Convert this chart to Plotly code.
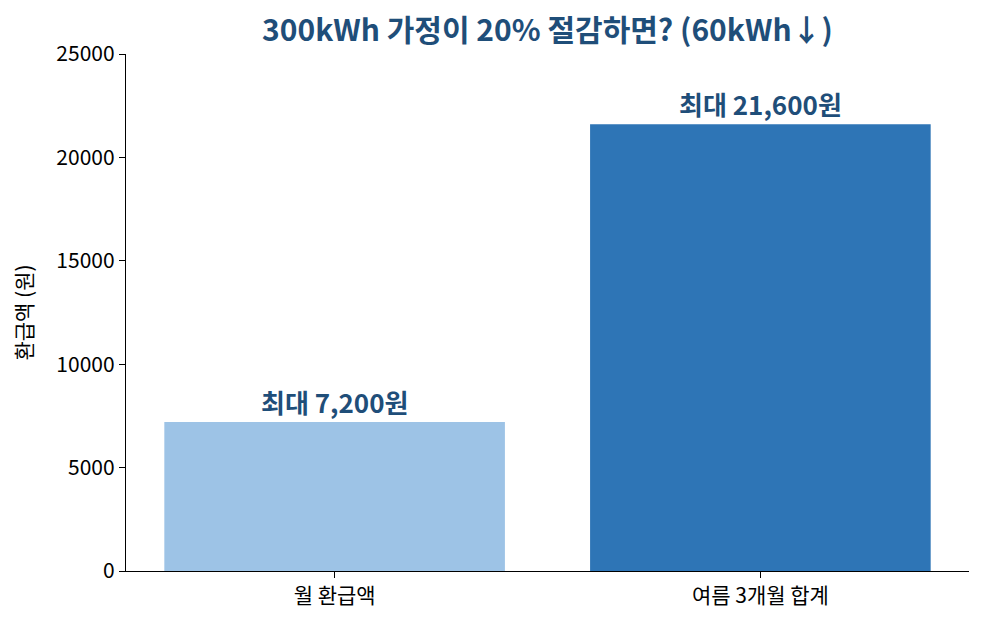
import plotly.graph_objects as go

categories = ["월 환급액", "여름 3개월 합계"]
values = [7200, 21600]
labels = ["최대 7,200원", "최대 21,600원"]
colors = ["#9dc3e6", "#2e75b6"]
title = "300kWh 가정이 20% 절감하면? (60kWh↓)"
y_ticks = [0, 5000, 10000, 15000, 20000, 25000]

FONT = "Noto Sans CJK KR"
DARK = "#1f4e79"

fig = go.Figure()
fig.add_trace(go.Bar(
    x=[0, 1], y=values, width=0.8,
    marker=dict(color=colors, line=dict(width=0)),
    hoverinfo="skip",
))

for i, (v, t) in enumerate(zip(values, labels)):
    fig.add_annotation(x=i, y=v, text=f"<b>{t}</b>", showarrow=False,
                       yanchor="bottom", yshift=0,
                       font=dict(family=FONT, size=26, color=DARK))

fig.update_layout(
    width=985, height=626,
    margin=dict(l=126, r=16, t=54, b=55),
    paper_bgcolor="white", plot_bgcolor="white",
    showlegend=False,
    font=dict(family=FONT, size=21, color="black"),
    title=dict(text=f"<b>{title}</b>", x=0.5, xref="paper", xanchor="center",
               y=1 - 30/626, yanchor="middle",
               font=dict(family=FONT, size=30, color=DARK)),
)
fig.update_xaxes(
    range=[-0.49, 1.49], tickmode="array", tickvals=[0, 1], ticktext=categories,
    showline=True, linecolor="black", linewidth=1.3, ticks="outside", ticklen=6,
    tickcolor="black", showgrid=False, zeroline=False,
    tickfont=dict(family=FONT, size=21, color="black"),
)
fig.update_yaxes(
    range=[0, 25000], tickmode="array", tickvals=y_ticks,
    ticktext=[str(t) for t in y_ticks],
    showline=True, linecolor="black", linewidth=1.3, ticks="outside", ticklen=6,
    tickcolor="black", showgrid=False, zeroline=False,
    tickfont=dict(family=FONT, size=21, color="black"),
    title=dict(text="환급액 (원)", font=dict(family=FONT, size=21, color="black"), standoff=18),
)

fig.write_html("out.html")
